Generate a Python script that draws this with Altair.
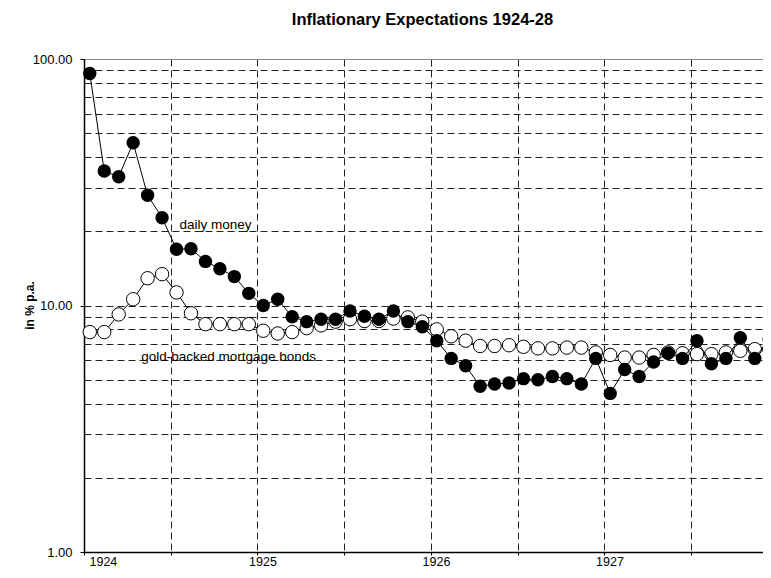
import altair as alt
import pandas as pd

# Monthly observations, Jan 1924 - Dec 1927 (in % p.a.)
daily_money = [87.3, 35.1, 33.3, 45.7, 28.0, 22.7, 16.9, 17.0, 15.1, 14.1, 13.1, 11.2,
               10.0, 10.6, 9.0, 8.6, 8.8, 8.8, 9.5, 9.05, 8.8, 9.5, 8.6, 8.2,
               7.2, 6.1, 5.7, 4.7, 4.8, 4.85, 5.05, 5.0, 5.15, 5.05, 4.8, 6.1,
               4.4, 5.5, 5.15, 5.9, 6.4, 6.1, 7.2, 5.8, 6.1, 7.4, 6.1, 7.3]
gold_bonds = [7.8, 7.8, 9.2, 10.6, 12.9, 13.4, 11.3, 9.3, 8.4, 8.4, 8.4, 8.4,
              7.9, 7.7, 7.8, 8.1, 8.3, 8.6, 8.8, 8.65, 8.65, 8.85, 8.95, 8.6,
              8.0, 7.5, 7.2, 6.85, 6.85, 6.9, 6.8, 6.7, 6.7, 6.75, 6.75, 6.45,
              6.3, 6.15, 6.15, 6.3, 6.45, 6.4, 6.35, 6.35, 6.45, 6.55, 6.65, 6.65]
start_year = 1924
x_grid_values = [1924, 1924.5, 1925, 1925.5, 1926, 1926.5, 1927, 1927.5]
y_values = [1, 2, 3, 4, 5, 6, 7, 8, 9, 10, 20, 30, 40, 50, 60, 70, 80, 90, 100]
label_texts = ["daily money", "gold-backed mortgage bonds"]
label_t = [1924.55, 1924.33]
label_v = [21.2, 6.2]

t = [start_year + (i + 0.4) / 12 for i in range(len(daily_money))]
df_money = pd.DataFrame({"t": t, "v": daily_money})
df_gold = pd.DataFrame({"t": t, "v": gold_bonds})
df_lab = pd.DataFrame({"t": label_t, "v": label_v, "label": label_texts})

FONT = "Liberation Sans"
major = "datum.value == 1 || datum.value == 10 || datum.value == 100"

x_enc = alt.X(
    "t:Q",
    scale=alt.Scale(domain=[1924, 1927.914], nice=False, zero=False),
    axis=alt.Axis(
        values=x_grid_values,
        labelExpr="datum.value % 1 == 0 ? format(datum.value, 'd') : ''",
        labelOverlap=False,
        grid=True, gridDash=[7, 4], gridColor="#222222", gridWidth=1,
        domainColor="black", domainWidth=1.5,
        tickColor="black", tickSize=3,
        labelFont=FONT, labelFontSize=12.5, labelColor="black",
        labelPadding=0, labelOffset=5,
        title=None,
    ),
)
y_enc = alt.Y(
    "v:Q",
    scale=alt.Scale(type="log", domain=[1, 100], nice=False),
    axis=alt.Axis(
        values=y_values,
        labelExpr="(" + major + ") ? format(datum.value, '.2f') : ''",
        labelOverlap=False,
        grid=True,
        gridDash={"condition": {"test": "datum.value == 100", "value": []}, "value": [7, 4]},
        gridColor={"condition": {"test": "datum.value == 100", "value": "#888888"}, "value": "#222222"},
        gridWidth=1,
        domainColor="black", domainWidth=1.5,
        tickColor="black", tickSize=4,
        tickOpacity={"condition": {"test": major, "value": 1}, "value": 0},
        labelFont=FONT, labelFontSize=13, labelColor="black", labelPadding=8,
        title="in % p.a.", titleFont=FONT, titleFontSize=12, titleFontWeight="bold",
        titleColor="black", titleX=-55, titleY=246, titleAngle=-90,
        titleAlign="center", titleBaseline="middle",
    ),
)

gold_line = alt.Chart(df_gold).mark_line(color="black", strokeWidth=1).encode(x=x_enc, y=y_enc)
gold_pts = alt.Chart(df_gold).mark_point(
    shape="circle", size=180, filled=False, fill="white", fillOpacity=1,
    stroke="black", strokeWidth=1, opacity=1
).encode(x=x_enc, y=y_enc)
money_line = alt.Chart(df_money).mark_line(color="black", strokeWidth=1).encode(x=x_enc, y=y_enc)
money_pts = alt.Chart(df_money).mark_point(
    shape="circle", size=180, filled=True, color="black", opacity=1
).encode(x=x_enc, y=y_enc)
labels = alt.Chart(df_lab).mark_text(
    align="left", baseline="middle", font=FONT, fontSize=13.5, color="black"
).encode(x=x_enc, y=y_enc, text="label:N")

chart = alt.layer(gold_line, gold_pts, money_line, money_pts, labels).properties(
    width=679,
    height=493,
    autosize=alt.AutoSizeParams(type="none"),
    padding={"left": 76, "top": 51, "right": 0, "bottom": 18},
    title=alt.Title(
        "Inflationary Expectations 1924-28", font=FONT, fontSize=16.5,
        fontWeight="bold", color="black", anchor="middle", offset=12,
        baseline="alphabetic", dx=-1,
    ),
).configure_view(stroke="#888888", strokeWidth=1).configure(background="white")

chart.save("out.html", embed_options={"renderer": "svg", "actions": False})
